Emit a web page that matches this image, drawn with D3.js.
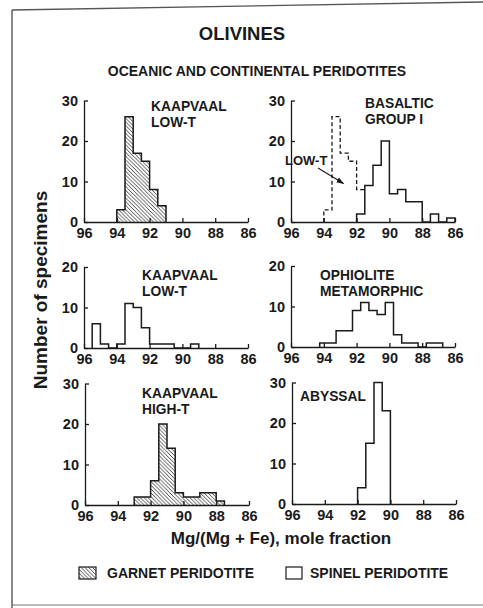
<!DOCTYPE html>
<html><head><meta charset="utf-8">
<script src="https://cdn.jsdelivr.net/npm/d3@7"></script>
<style>
html,body{margin:0;padding:0;background:#fff;}
svg{display:block;}
text{font-family:"Liberation Sans",Arial,Helvetica,sans-serif;font-weight:bold;fill:#1a1a1a;}
</style></head>
<body>
<svg id="chart" width="483" height="608"></svg>
<script>
// ---------- data ----------
const xTicks = [96, 94, 92, 90, 88, 86];
const yTicks30 = [0, 10, 20, 30];
const yTicks20 = [0, 10, 20];

// Kaapvaal low-T, garnet peridotite
const lowTGarnetEdges = [94, 93.5, 93, 92.5, 92, 91.5, 91];
const lowTGarnetCounts = [3, 26, 17, 15, 8, 4];

// Basaltic group I, spinel peridotite
const basalticEdges = [92, 91.5, 91, 90.5, 90, 89.5, 89, 88.5, 88, 87.5, 87, 86.5, 86];
const basalticCounts = [2, 9, 14, 20, 7, 8, 5, 5, 0, 2, 0, 1];

// Low-T overlay (dashed) on the basaltic panel
const lowTOverlayEdges = [94, 93.5, 93, 92.5, 92, 91.5];
const lowTOverlayCounts = [3, 26, 17, 15, 8];

// Kaapvaal low-T, spinel peridotite
const lowTSpinelEdges = [95.5, 95, 94.5, 94, 93.5, 93, 92.5, 92, 91.5, 91, 90.5, 90, 89.5, 89];
const lowTSpinelCounts = [6, 1, 0, 1, 11, 10, 5, 1, 1, 1, 0, 0, 1];

// Ophiolite metamorphic
const ophioliteEdges = [94.25, 93.25, 92.25, 91.75, 91.25, 90.75, 90.25, 89.75, 89.25, 88.25, 87.75, 86.75];
const ophioliteCounts = [1, 4, 9, 11, 9, 8, 11, 3, 1, 0, 1];

// Kaapvaal high-T, garnet peridotite
const highTEdges = [93, 92, 91.5, 91, 90.5, 90, 89, 88, 87.5];
const highTCounts = [2, 6, 20, 14, 3, 2, 3, 1];

// Abyssal
const abyssalEdges = [92, 91.5, 91, 90.5, 90];
const abyssalCounts = [4, 15, 30, 23];

const panelTitles = [
  ["KAAPVAAL", "LOW-T"],
  ["BASALTIC", "GROUP I"],
  ["KAAPVAAL", "LOW-T"],
  ["OPHIOLITE", "METAMORPHIC"],
  ["KAAPVAAL", "HIGH-T"],
  ["ABYSSAL"]
];
const legendLabels = ["GARNET PERIDOTITE", "SPINEL PERIDOTITE"];

// ---------- drawing ----------
const ink = "#1a1a1a";
const svg = d3.select("#chart");
const defs = svg.append("defs");
const hs = 3.8;
const pat = defs.append("pattern").attr("id", "hatch")
  .attr("patternUnits", "userSpaceOnUse").attr("width", hs).attr("height", hs);
pat.append("path").attr("d", `M-1,-1 L${hs+1},${hs+1} M-1,${hs-1} L1,${hs+1} M${hs-1},-1 L${hs+1},1`)
  .attr("stroke", ink).attr("stroke-width", 0.8);
defs.append("marker").attr("id", "arrow").attr("viewBox", "0 0 10 10")
  .attr("refX", 9).attr("refY", 5).attr("markerWidth", 7).attr("markerHeight", 7)
  .attr("orient", "auto").append("path").attr("d", "M0,1.5 L10,5 L0,8.5 z").attr("fill", ink);

// frame
svg.append("line").attr("x1", 12).attr("y1", 10).attr("x2", 483).attr("y2", 2)
  .attr("stroke", "#555").attr("stroke-width", 1.4);
svg.append("line").attr("x1", 12).attr("y1", 10).attr("x2", 12).attr("y2", 608)
  .attr("stroke", "#555").attr("stroke-width", 1.4);
svg.append("line").attr("x1", 12).attr("y1", 605).attr("x2", 483).attr("y2", 605)
  .attr("stroke", "#777").attr("stroke-width", 1.2);

// titles
svg.append("text").attr("x", 242).attr("y", 40).attr("text-anchor", "middle")
  .style("font-size", "18.5px").text("OLIVINES");
svg.append("text").attr("x", 257).attr("y", 76).attr("text-anchor", "middle")
  .style("font-size", "14px").text("OCEANIC AND CONTINENTAL PERIDOTITES");

const unit = 4.05;
const panels = [
  {x0: 84,  base: 222, ymax: 30, yt: yTicks30, tx: 151, ty: 111},
  {x0: 291, base: 222, ymax: 30, yt: yTicks30, tx: 365, ty: 108},
  {x0: 84,  base: 348, ymax: 20, yt: yTicks20, tx: 142, ty: 280},
  {x0: 291, base: 347, ymax: 20, yt: yTicks20, tx: 320, ty: 280},
  {x0: 85,  base: 505, ymax: 30, yt: yTicks30, tx: 142, ty: 398},
  {x0: 292, base: 504, ymax: 30, yt: yTicks30, tx: 300, ty: 401}
];

function makeScales(p) {
  const x = d3.scaleLinear().domain([96, 86]).range([p.x0, p.x0 + 164]);
  const y = d3.scaleLinear().domain([0, p.ymax]).range([p.base, p.base - p.ymax * unit]);
  return {x, y};
}

function stepPath(edges, counts, x, y, close) {
  const p = d3.path();
  p.moveTo(x(edges[0]), y(0));
  counts.forEach((c, i) => { p.lineTo(x(edges[i]), y(c)); p.lineTo(x(edges[i + 1]), y(c)); });
  if (close) p.lineTo(x(edges[edges.length - 1]), y(0));
  return p.toString();
}

const scales = panels.map(makeScales);

panels.forEach((p, i) => {
  const {x, y} = scales[i];
  const g = svg.append("g");
  const ya = d3.axisLeft(y).tickValues(p.yt).tickSizeInner(-4).tickSizeOuter(0).tickPadding(6);
  const gy = g.append("g").attr("transform", `translate(${p.x0},0)`).call(ya);
  const xa = d3.axisBottom(x).tickValues(xTicks).tickSizeInner(-4).tickSizeOuter(0).tickPadding(6);
  const gx = g.append("g").attr("transform", `translate(0,${p.base})`).call(xa);
  [gy, gx].forEach(a => {
    a.selectAll("path,line").attr("stroke", ink).attr("stroke-width", 1.3);
    a.selectAll("text").style("font-size", "14.5px").style("font-family", "'Liberation Sans',Arial,sans-serif")
      .style("font-weight", "bold").attr("fill", ink);
  });
  const t = g.append("text").attr("x", p.tx).attr("y", p.ty).style("font-size", "13.8px");
  panelTitles[i].forEach((line, k) => {
    t.append("tspan").attr("x", p.tx).attr("dy", k === 0 ? 0 : 15.5).text(line);
  });
});

function drawHist(i, edges, counts, hatched) {
  const {x, y} = scales[i];
  const d = stepPath(edges, counts, x, y, true);
  if (hatched) svg.append("path").attr("d", d + "Z").attr("fill", "url(#hatch)").attr("stroke", "none");
  svg.append("path").attr("d", d).attr("fill", "none").attr("stroke", ink).attr("stroke-width", 1.5)
    .attr("stroke-linejoin", "miter");
}

drawHist(0, lowTGarnetEdges, lowTGarnetCounts, true);
drawHist(1, basalticEdges, basalticCounts, false);
drawHist(2, lowTSpinelEdges, lowTSpinelCounts, false);
drawHist(3, ophioliteEdges, ophioliteCounts, false);
drawHist(4, highTEdges, highTCounts, true);
drawHist(5, abyssalEdges, abyssalCounts, false);

// dashed low-T overlay
{
  const {x, y} = scales[1];
  svg.append("path").attr("d", stepPath(lowTOverlayEdges, lowTOverlayCounts, x, y, false))
    .attr("fill", "none").attr("stroke", ink).attr("stroke-width", 1.3).attr("stroke-dasharray", "4,2.5");
  svg.append("text").attr("x", 285).attr("y", 165).style("font-size", "13px").text("LOW-T");
  svg.append("line").attr("x1", 318).attr("y1", 168).attr("x2", x(92.8)).attr("y2", y(9.5))
    .attr("stroke", ink).attr("stroke-width", 1.1).attr("marker-end", "url(#arrow)");
}

// axis titles
svg.append("text").attr("transform", "translate(47,290) rotate(-90)").attr("text-anchor", "middle")
  .style("font-size", "19px").text("Number of specimens");
svg.append("text").attr("x", 281).attr("y", 544).attr("text-anchor", "middle")
  .style("font-size", "17px").text("Mg/(Mg + Fe), mole fraction");

// legend
svg.append("rect").attr("x", 79).attr("y", 567).attr("width", 17).attr("height", 12)
  .attr("fill", "url(#hatch)").attr("stroke", ink).attr("stroke-width", 1.2);
svg.append("text").attr("x", 107).attr("y", 578).style("font-size", "14px").text(legendLabels[0]);
svg.append("rect").attr("x", 286).attr("y", 567).attr("width", 16).attr("height", 12)
  .attr("fill", "none").attr("stroke", ink).attr("stroke-width", 1.2);
svg.append("text").attr("x", 310).attr("y", 578).style("font-size", "14px").text(legendLabels[1]);
</script>
</body></html>
